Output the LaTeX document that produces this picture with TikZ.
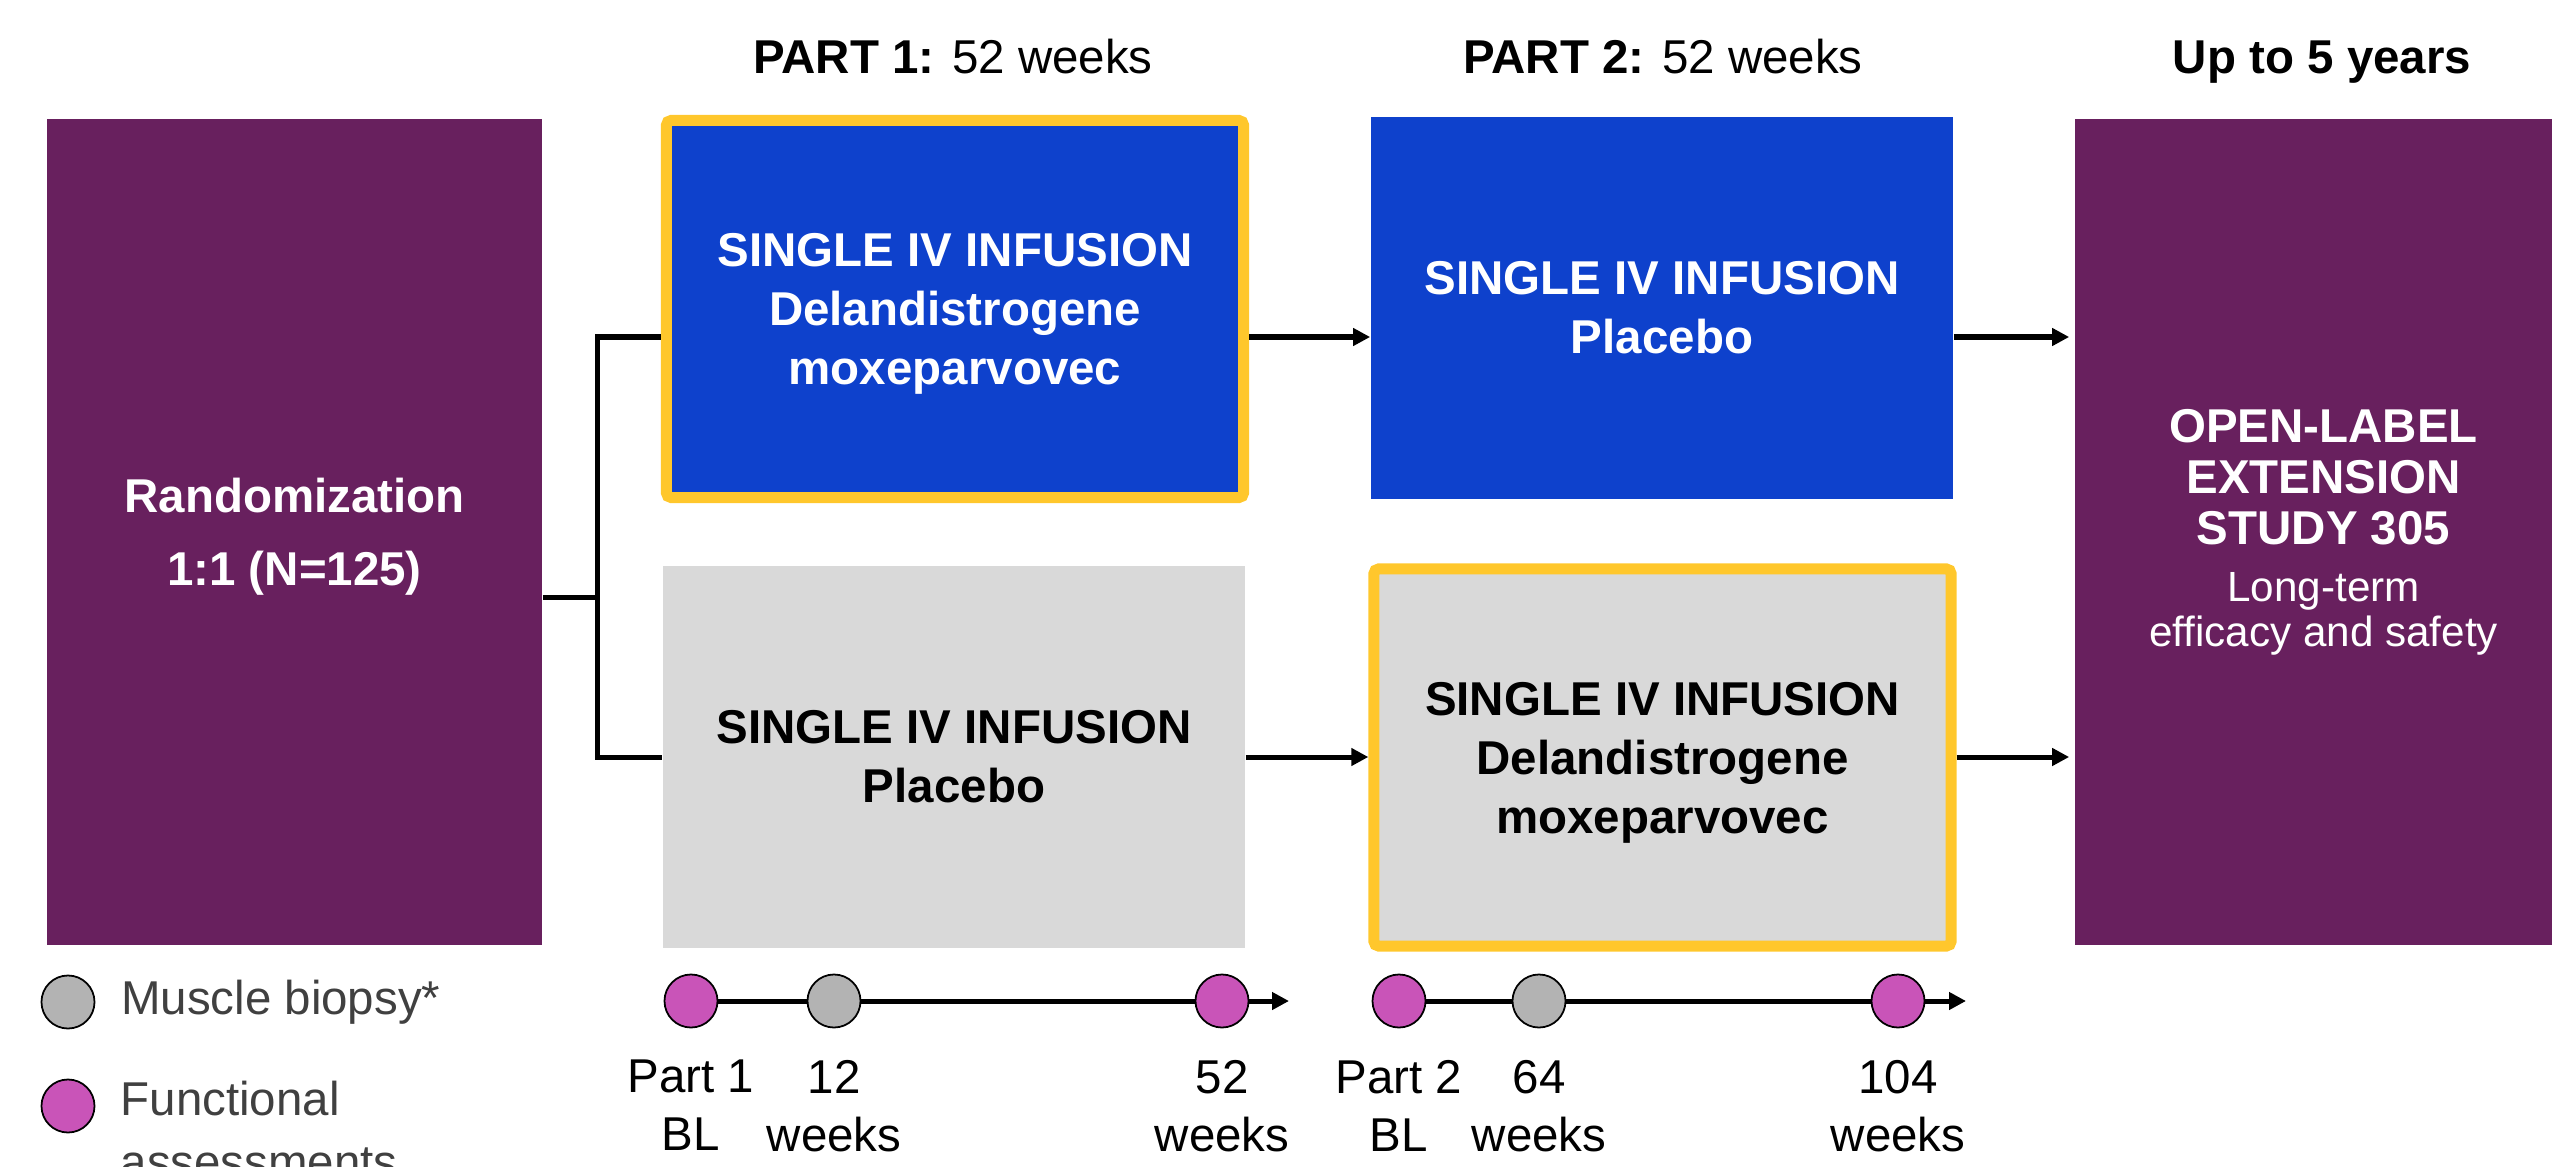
\documentclass[tikz,border=0pt]{standalone}
\usepackage{fontspec}
\setmainfont{Liberation Sans}
\usetikzlibrary{positioning,arrows.meta}

\definecolor{plum}{RGB}{104,32,94}
\definecolor{royal}{RGB}{14,65,204}
\definecolor{pale}{RGB}{217,217,217}
\definecolor{gold}{RGB}{255,199,44}
\definecolor{orchid}{RGB}{201,84,184}
\definecolor{stone}{RGB}{179,179,179}
\definecolor{ink}{RGB}{64,64,64}

\tikzset{
	trialbox/.style={rectangle, inner sep=0pt, align=center, font=\fontsize{13.5}{16.8}\selectfont\bfseries, minimum width=5.82cm, minimum height=3.82cm},
	goldbox/.style={trialbox, draw=gold, line width=0.11cm, rounded corners=0.05cm, minimum width=5.77cm, minimum height=3.77cm},
	arr/.style={line width=0.05cm, -{Triangle[length=0.17cm,width=0.17cm]}},
	tdot/.style={circle, draw=black, line width=0.5pt, inner sep=0pt, minimum size=0.53cm},
	tlabel/.style={inner sep=0pt, align=center, font=\fontsize{13.5}{16.5}\selectfont},
	legtext/.style={inner sep=0pt, align=left, text=ink, font=\fontsize{13.5}{17.9}\selectfont},
}

\begin{document}
\begin{tikzpicture}[x=0.01cm, y=-0.01cm]
\def\ty{1001}
\def\lw{0.05cm}
\useasboundingbox (0,0) rectangle (2552,1167);
\clip (0,0) rectangle (2552,1167);

% column heads
\node[anchor=base, font=\fontsize{13.5}{16}\selectfont] (hdrA) at (953,74) {\textbf{PART 1:} 52 weeks};
\node[anchor=base, font=\fontsize{13.5}{16}\selectfont] (hdrB) at (1663,74) {\textbf{PART 2:} 52 weeks};
\node[anchor=base, font=\fontsize{13.5}{16}\selectfont\bfseries] (hdrC) at (2322,74) {Up to 5 years};

% boxes
\node[trialbox, fill=plum, text=white, text depth=0pt, minimum width=4.95cm, minimum height=8.26cm] (rand) at (294.5,532) {Randomization\\[4pt]1:1 (N=125)};
\node[goldbox, fill=royal, text=white, text depth=0pt] (p1top) at (955,309) {SINGLE IV INFUSION\\Delandistrogene\\moxeparvovec};
\node[trialbox, fill=royal, text=white] (p2top) at (1662,308) {SINGLE IV INFUSION\\Placebo};
\node[trialbox, fill=pale] (p1bot) at (954,757) {SINGLE IV INFUSION\\Placebo};
\node[goldbox, fill=pale, text depth=0pt] (p2bot) at (1662.5,757.5) {SINGLE IV INFUSION\\Delandistrogene\\moxeparvovec};
\node[trialbox, fill=plum, text=white, minimum width=4.97cm, minimum height=8.26cm, font=\fontsize{13.5}{14.5}\selectfont\bfseries] (ole) at (2323.5,532)
	{OPEN-LABEL\\EXTENSION\\STUDY 305\\[1.7pt]{\mdseries\fontsize{12}{12.8}\selectfont Long-term}\\[-1.7pt]{\mdseries\fontsize{12}{12.8}\selectfont efficacy and safety}};

% fork out of randomization
\coordinate (fork) at (597,597);
\coordinate (armA) at (597,337);
\coordinate (armB) at (597,757);
\draw[line width=\lw] (rand.east |- fork) -- (fork);
\draw[line width=\lw] (p1top.west |- armA) -- (armA) -- (armB) -- (p1bot.west |- armB);

\draw[arr] (p1top.east |- armA) -- (p2top.west |- armA);
\draw[arr, shorten >=0.05cm] (p2top.east |- armA) -- (ole.west |- armA);
\draw[arr] (p1bot.east |- armB) -- (p2bot.west |- armB);
\draw[arr, shorten >=0.05cm] (p2bot.east |- armB) -- (ole.west |- armB);

% timelines
\foreach \n/\x/\c in {t1/691/orchid, t2/834/stone, t3/1222/orchid, s1/1399/orchid, s2/1539/stone, s3/1898/orchid}
	\node[tdot, fill=\c] (\n) at (\x,\ty) {};
\coordinate (axA) at (1289,\ty);
\coordinate (axB) at (1966,\ty);

\foreach \a/\b in {t1/t2, t2/t3, s1/s2, s2/s3}
	\draw[line width=\lw] (\a.east) -- (\b.west);
\draw[arr] (t3.east) -- (axA);
\draw[arr] (s3.east) -- (axB);

\foreach \n/\t in {t1/{Part 1\\BL}, t2/{12\\weeks}, t3/{52\\weeks}, s1/{Part 2\\BL}, s2/{64\\weeks}, s3/{104\\weeks}}
	\node[tlabel, below=0.31cm of \n] (\n-l) {\t};

% legend
\node[tdot, fill=stone] (legA) at (68,1002) {};
\node[tdot, fill=orchid] (legB) at (68,1106) {};
\node[legtext, right=0.25cm of legA] (legAtxt) {Muscle biopsy*};
\node[legtext, anchor=north west] (legBtxt) at (120,1080) {Functional\\assessments};

\end{tikzpicture}
\end{document}
